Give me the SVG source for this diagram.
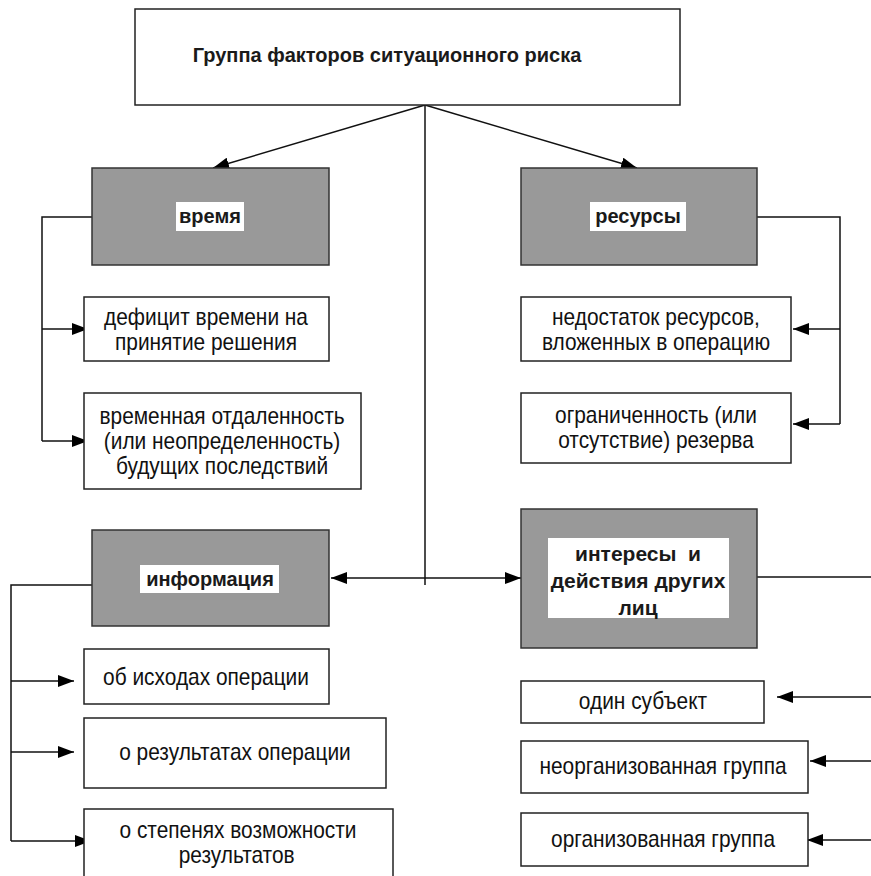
<svg xmlns="http://www.w3.org/2000/svg" width="871" height="876" viewBox="0 0 871 876">
<style>
.box{fill:#fff;stroke:#222;stroke-width:1.5}
.gbox{fill:#999;stroke:#333;stroke-width:1.5}
.lbl{fill:#fff}
.t{font-family:"Liberation Sans",Arial,sans-serif;font-size:20px;fill:#111;text-anchor:middle;dominant-baseline:central}
.n{font-size:24px}
.b{font-weight:bold;fill:#1a1a1a}
.c{fill:none;stroke:#111;stroke-width:1.5}
</style>
<defs>
<marker id="ah" markerUnits="userSpaceOnUse" markerWidth="17" markerHeight="12" refX="16" refY="6" orient="auto-start-reverse" viewBox="0 0 17 12">
<path d="M0,0 L16,6 L0,12 z" fill="#000"/>
</marker>
</defs>
<g id="connectors">
<line class="c" x1="425" y1="105" x2="425" y2="585"/>
<line class="c" x1="425" y1="105" x2="213" y2="168" marker-end="url(#ah)"/>
<line class="c" x1="425" y1="105" x2="637" y2="168" marker-end="url(#ah)"/>
<polyline class="c" points="92,217 42,217 42,441"/>
<line class="c" x1="42" y1="329" x2="88" y2="329" marker-end="url(#ah)"/>
<line class="c" x1="42" y1="441" x2="88" y2="441" marker-end="url(#ah)"/>
<polyline class="c" points="757,217 840,217 840,424"/>
<line class="c" x1="840" y1="329" x2="793" y2="329" marker-end="url(#ah)"/>
<line class="c" x1="840" y1="424" x2="793" y2="424" marker-end="url(#ah)"/>
<line class="c" x1="331" y1="578" x2="521" y2="578" marker-start="url(#ah)" marker-end="url(#ah)"/>
<line class="c" x1="757" y1="577" x2="871" y2="577"/>
<polyline class="c" points="98,585 11,585 11,841"/>
<line class="c" x1="11" y1="681" x2="74" y2="681" marker-end="url(#ah)"/>
<line class="c" x1="11" y1="752" x2="74" y2="752" marker-end="url(#ah)"/>
<line class="c" x1="11" y1="841" x2="91" y2="841" marker-end="url(#ah)"/>
<line class="c" x1="871" y1="697" x2="777" y2="697" marker-end="url(#ah)"/>
<line class="c" x1="871" y1="761" x2="810" y2="761" marker-end="url(#ah)"/>
<line class="c" x1="871" y1="840" x2="807" y2="840" marker-end="url(#ah)"/>
</g>
<g id="root">
<rect class="box" x="135" y="9" width="545" height="96"/>
<text class="t b" x="387" y="55">Группа факторов ситуационного риска</text>
</g>
<g id="vremya">
<rect class="gbox" x="92" y="168" width="237" height="97"/>
<rect class="lbl" x="176" y="202" width="68" height="29"/>
<text class="t b" x="210" y="216">время</text>
</g>
<g id="resursy">
<rect class="gbox" x="521" y="168" width="236" height="97"/>
<rect class="lbl" x="590" y="202" width="96" height="29"/>
<text class="t b" x="638" y="216">ресурсы</text>
</g>
<g id="deficit">
<rect class="box" x="84" y="297" width="245" height="64"/>
<g transform="scale(0.87 1)">
<text class="t n" x="236.8" y="317">дефицит времени на</text>
<text class="t n" x="236.8" y="342">принятие решения</text>
</g>
</g>
<g id="otdalennost">
<rect class="box" x="84" y="393" width="277" height="96"/>
<g transform="scale(0.87 1)">
<text class="t n" x="255.2" y="416">временная отдаленность</text>
<text class="t n" x="255.2" y="441">(или неопределенность)</text>
<text class="t n" x="255.2" y="466">будущих последствий</text>
</g>
</g>
<g id="nedostatok">
<rect class="box" x="521" y="297" width="270" height="64"/>
<g transform="scale(0.87 1)">
<text class="t n" x="754" y="317">недостаток ресурсов,</text>
<text class="t n" x="754" y="342">вложенных в операцию</text>
</g>
</g>
<g id="ogranichennost">
<rect class="box" x="521" y="393" width="270" height="70"/>
<g transform="scale(0.87 1)">
<text class="t n" x="754" y="415">ограниченность (или</text>
<text class="t n" x="754" y="440">отсутствие) резерва</text>
</g>
</g>
<g id="informaciya">
<rect class="gbox" x="92" y="530" width="237" height="96"/>
<rect class="lbl" x="140" y="565" width="139" height="28"/>
<text class="t b" x="210" y="579">информация</text>
</g>
<g id="interesy">
<rect class="gbox" x="521" y="509" width="236" height="139"/>
<rect class="lbl" x="548" y="538" width="181" height="80"/>
<text class="t b" x="638" y="553" style="font-size:21px" xml:space="preserve">интересы  и</text>
<text class="t b" x="638" y="580" style="font-size:21px">действия других</text>
<text class="t b" x="638" y="607" style="font-size:21px">лиц</text>
</g>
<g id="ishody">
<rect class="box" x="84" y="649" width="245" height="55"/>
<g transform="scale(0.87 1)">
<text class="t n" x="236.8" y="677">об исходах операции</text>
</g>
</g>
<g id="rezultaty">
<rect class="box" x="84" y="718" width="302" height="70"/>
<g transform="scale(0.87 1)">
<text class="t n" x="270.1" y="752">о результатах операции</text>
</g>
</g>
<g id="stepeni">
<rect class="box" x="84" y="809" width="309" height="80"/>
<g transform="scale(0.87 1)">
<text class="t n" x="273.6" y="830">о степенях возможности</text>
<text class="t n" x="272" y="855">результатов</text>
</g>
</g>
<g id="odin">
<rect class="box" x="521" y="681" width="243" height="42"/>
<g transform="scale(0.87 1)">
<text class="t n" x="739.1" y="701">один субъект</text>
</g>
</g>
<g id="neorg">
<rect class="box" x="521" y="741" width="287" height="52"/>
<g transform="scale(0.87 1)">
<text class="t n" x="762.1" y="766">неорганизованная группа</text>
</g>
</g>
<g id="org">
<rect class="box" x="521" y="813" width="287" height="53"/>
<g transform="scale(0.87 1)">
<text class="t n" x="762.1" y="839">организованная группа</text>
</g>
</g>
</svg>
